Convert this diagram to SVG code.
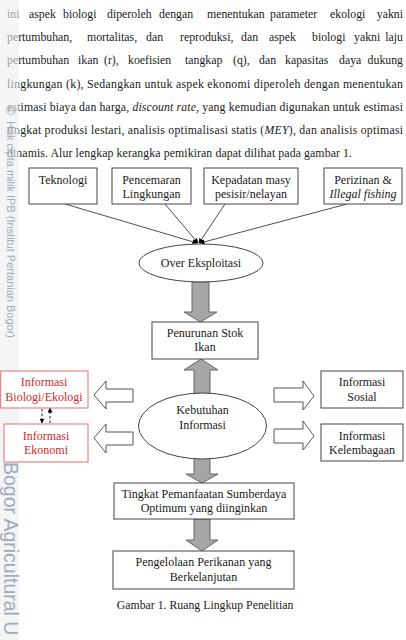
<svg xmlns="http://www.w3.org/2000/svg" width="406" height="640" viewBox="0 0 406 640">
<style>
.body{font-family:"Liberation Serif","Times New Roman",serif;font-size:11.8px;fill:#1a1a1a}
.t{font-family:"Liberation Serif","Times New Roman",serif;font-size:12px;fill:#1a1a1a;text-anchor:middle}
.r{fill:#d42a2a}
.box{fill:#fff;stroke:#444;stroke-width:1}
.rbox{fill:#fff;stroke:#e88585;stroke-width:1.2}
.gray{fill:#a6a6a6;stroke:#666;stroke-width:1}
.hollow{fill:#fff;stroke:#555;stroke-width:1}
.wm{font-family:"Liberation Sans",Arial,sans-serif;fill:#a3abba}
</style>
<defs>
<marker id="ah" viewBox="0 0 10 10" refX="9" refY="5" markerWidth="5" markerHeight="5" orient="auto" markerUnits="userSpaceOnUse"><path d="M0,0 L10,5 L0,10 z" fill="#000"/></marker>
<marker id="ahs" viewBox="0 0 10 10" refX="9" refY="5" markerWidth="5" markerHeight="5" orient="auto" markerUnits="userSpaceOnUse"><path d="M0,0 L10,5 L0,10 z" fill="#000"/></marker>
</defs>
<rect width="406" height="640" fill="#fff"/>
<g id="paragraph" class="body">
<text y="18"><tspan x="7">ini</tspan><tspan x="29">aspek</tspan><tspan x="63">biologi</tspan><tspan x="107">diperoleh</tspan><tspan x="159">dengan</tspan><tspan x="207">menentukan</tspan><tspan x="270">parameter</tspan><tspan x="330">ekologi</tspan></text>
<text x="403" y="18" text-anchor="end">yakni</text>
<text y="41"><tspan x="7">pertumbuhan,</tspan><tspan x="87">mortalitas,</tspan><tspan x="146">dan</tspan><tspan x="180">reproduksi,</tspan><tspan x="241">dan</tspan><tspan x="269">aspek</tspan><tspan x="312">biologi</tspan><tspan x="354">yakni</tspan></text>
<text x="403" y="41" text-anchor="end">laju</text>
<text y="64"><tspan x="7">pertumbuhan</tspan><tspan x="78">ikan</tspan><tspan x="104">(r),</tspan><tspan x="128">koefisien</tspan><tspan x="185">tangkap</tspan><tspan x="233">(q),</tspan><tspan x="259">dan</tspan><tspan x="285">kapasitas</tspan><tspan x="339">daya</tspan></text>
<text x="403" y="64" text-anchor="end">dukung</text>
<text x="7" y="88" textLength="396" lengthAdjust="spacing">lingkungan (k), Sedangkan untuk aspek ekonomi diperoleh dengan menentukan</text>
<text x="7" y="111" textLength="396" lengthAdjust="spacing">estimasi biaya dan harga, <tspan font-style="italic">discount rate</tspan>, yang kemudian digunakan untuk estimasi</text>
<text x="7" y="134" textLength="396" lengthAdjust="spacing">tingkat produksi lestari, analisis optimalisasi statis (<tspan font-style="italic">MEY</tspan>), dan analisis optimasi</text>
<text x="7" y="157" textLength="345" lengthAdjust="spacing">dinamis. Alur lengkap kerangka pemikiran dapat dilihat pada gambar 1.</text>
</g>
<g id="watermark">
<rect x="0" y="0" width="19" height="640" fill="#eceef1" opacity="0.6"/>
<text class="wm" font-size="12" transform="translate(6,106) rotate(90)">©</text>
<text class="wm" font-size="11" transform="translate(7,121) rotate(90)">Hak cipta milik IPB (Institut Pertanian Bogor)</text>
<text class="wm" font-size="19.5" transform="translate(4,462) rotate(90)">Bogor Agricultural U</text>
</g>
<g id="connectors">
<line x1="65" y1="204" x2="197" y2="243" stroke="#222" stroke-width="0.8" marker-end="url(#ah)"/>
<line x1="165" y1="204" x2="198" y2="243" stroke="#222" stroke-width="0.8" marker-end="url(#ah)"/>
<line x1="225" y1="204" x2="199" y2="243" stroke="#222" stroke-width="0.8" marker-end="url(#ah)"/>
<line x1="347" y1="204" x2="200" y2="243" stroke="#222" stroke-width="0.8" marker-end="url(#ah)"/>
<polygon class="gray" points="192,282 209,282 209,312 217,312 200.5,322 184,312 192,312"/>
<polygon class="gray" points="201,359 218,370 210,370 210,400 194,400 194,370 184,370"/>
<polygon class="gray" points="194,452 210,452 210,474 218,474 202,483 186,474 194,474"/>
<polygon class="gray" points="194,519 210,519 210,540 218,540 202,551 186,540 194,540"/>
<polygon class="hollow" points="94,395 106,381 106,389 133,389 133,402 106,402 106,409"/>
<polygon class="hollow" points="94,438 106,424 106,432 133,432 133,445 106,445 106,453"/>
<polygon class="hollow" points="274,388 303,388 303,381 314,396 303,410 303,402 274,402"/>
<polygon class="hollow" points="274,429 303,429 303,421 314,436 303,450 303,443 274,443"/>
<line x1="42" y1="409" x2="42" y2="423" stroke="#000" stroke-width="0.9" stroke-dasharray="2.5,2" marker-end="url(#ahs)"/>
<line x1="50" y1="423" x2="50" y2="408" stroke="#000" stroke-width="0.9" stroke-dasharray="2.5,2" marker-end="url(#ahs)"/>
</g>
<g id="teknologi"><rect class="box" x="29" y="168" width="68" height="36"/><text class="t" x="63" y="184">Teknologi</text></g>
<g id="pencemaran"><rect class="box" x="112" y="168" width="79" height="36"/><text class="t" x="151.5" y="184">Pencemaran</text><text class="t" x="151.5" y="197.5">Lingkungan</text></g>
<g id="kepadatan"><rect class="box" x="204" y="168" width="94" height="36"/><text class="t" x="251" y="184">Kepadatan masy</text><text class="t" x="251" y="197.5">pesisir/nelayan</text></g>
<g id="perizinan"><rect class="box" x="324" y="168" width="78" height="36"/><text class="t" x="363" y="184">Perizinan &amp;</text><text class="t" x="363" y="197.5" font-style="italic">Illegal fishing</text></g>
<g id="over-eksploitasi"><ellipse cx="201" cy="263" rx="62" ry="19" fill="#fff" stroke="#444"/><text class="t" x="201" y="267">Over Eksploitasi</text></g>
<g id="penurunan"><rect class="box" x="152" y="322" width="106" height="37"/><text class="t" x="205" y="337">Penurunan Stok</text><text class="t" x="205" y="351">Ikan</text></g>
<g id="kebutuhan"><ellipse cx="202.5" cy="426" rx="64" ry="33" fill="#fff" stroke="#444"/><text class="t" x="202.5" y="414">Kebutuhan</text><text class="t" x="202.5" y="428.5">Informasi</text></g>
<g id="biologi"><rect class="rbox" x="0.6" y="371" width="87.4" height="37"/><text class="t r" x="44" y="386">Informasi</text><text class="t r" x="44" y="401">Biologi/Ekologi</text></g>
<g id="ekonomi"><rect class="rbox" x="4" y="424" width="84" height="38"/><text class="t r" x="46" y="440">Informasi</text><text class="t r" x="46" y="454">Ekonomi</text></g>
<g id="sosial"><rect class="box" x="321" y="371" width="82" height="37"/><text class="t" x="362" y="386">Informasi</text><text class="t" x="362" y="401">Sosial</text></g>
<g id="kelembagaan"><rect class="box" x="321" y="424" width="82" height="37"/><text class="t" x="362" y="440">Informasi</text><text class="t" x="362" y="454">Kelembagaan</text></g>
<g id="tingkat"><rect class="box" x="114" y="483" width="180" height="36"/><text class="t" x="204" y="497.5">Tingkat Pemanfaatan Sumberdaya</text><text class="t" x="204" y="511.5">Optimum yang diinginkan</text></g>
<g id="pengelolaan"><rect class="box" x="113" y="551" width="181" height="38"/><text class="t" x="203.5" y="566">Pengelolaan Perikanan yang</text><text class="t" x="203.5" y="581">Berkelanjutan</text></g>
<text class="body" x="205" y="609" text-anchor="middle" font-size="13">Gambar 1. Ruang Lingkup Penelitian</text>
</svg>
